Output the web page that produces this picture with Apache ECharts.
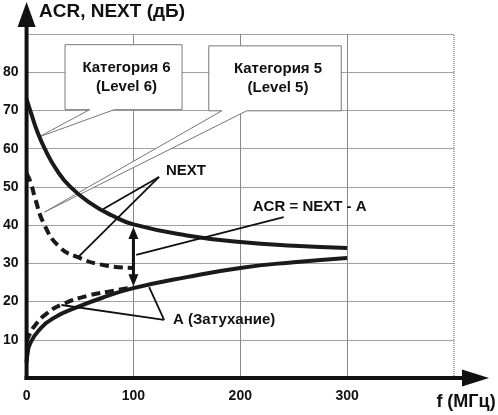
<!DOCTYPE html>
<html>
<head>
<meta charset="utf-8">
<script src="https://cdn.jsdelivr.net/npm/echarts@6/dist/echarts.min.js"></script>
<style>
html, body { margin: 0; padding: 0; background: #fff; }
#chart { width: 498px; height: 415px; }
</style>
</head>
<body>
<div id="chart"></div>
<script>
// f, МГц -> дБ
const next6 = [[0, 73], [4, 69.5], [10, 64.5], [17, 60], [28, 54.5], [41, 50], [60, 45.7], [80, 42.5], [100, 40.2], [150, 37.3], [200, 35.6], [250, 34.6], [300, 34]]
const next5 = [[0, 53.5], [4, 51], [8, 47], [16, 40.5], [30, 34.5], [48, 31.6], [73, 29.5], [100, 28.8]]
const atten6 = [[0, 4], [1, 6.5], [3, 8.8], [11, 12.3], [26, 15.8], [48, 18.6], [73, 21.2], [100, 23.5], [150, 26.4], [200, 28.8], [250, 30.3], [300, 31.4]]
const atten5 = [[0, 9.5], [2, 11], [8, 13.8], [19, 16.9], [33, 19.2], [57, 21.5], [85, 23], [100, 23.8]]
const xTicks = [0, 100, 200, 300]
const yTicks = [10, 20, 30, 40, 50, 60, 70, 80]

const FONT = 'Liberation Sans'
const myChart = echarts.init(document.getElementById('chart'))

const curve = (name, data, dashed) => ({
    name: name,
    type: 'line',
    data: data,
    smooth: 0.5,
    showSymbol: false,
    lineStyle: { color: '#1a1a1a', width: 4, type: dashed ? [9, 5] : 'solid' }
})

myChart.setOption({
    animation: false,
    grid: { left: 25, right: 44, top: 34, bottom: 37 },
    xAxis: {
        type: 'value',
        min: 0,
        max: 400,
        interval: 100,
        axisLine: { show: false },
        axisTick: { show: false },
        axisLabel: {
            margin: 11,
            fontFamily: FONT,
            fontWeight: 'bold',
            fontSize: 14,
            color: '#111',
            formatter: v => xTicks.includes(v) ? v : ''
        },
        splitLine: {
            show: true,
            lineStyle: { color: ['#888', '#888', '#888', '#888', 'rgba(0,0,0,0)'], width: 1 }
        }
    },
    yAxis: {
        type: 'value',
        min: 0,
        max: 90,
        interval: 10,
        axisLine: { show: false },
        axisTick: { show: false },
        axisLabel: {
            margin: 8,
            fontFamily: FONT,
            fontWeight: 'bold',
            fontSize: 14,
            color: '#111',
            formatter: v => yTicks.includes(v) ? v : ''
        },
        splitLine: {
            show: true,
            lineStyle: { color: '#444', width: 1, type: [1, 1] }
        }
    },
    series: [
        curve('NEXT кат. 6', next6, false),
        curve('NEXT кат. 5', next5, true),
        curve('A кат. 6', atten6, false),
        curve('A кат. 5', atten5, true)
    ]
})

// подписи и выноски (в координатах графика)
const callouts = [
    { text: 'Категория 6\n(Level 6)', box: [36, 87.2, 145.5, 70.2], base: [59, 82], tip: [11, 63] },
    { text: 'Категория 5\n(Level 5)', box: [170.5, 86.9, 294.5, 69.9], base: [182.7, 206], tip: [16.8, 43.4] }
]
const leaders = [
    { text: 'NEXT', at: [130.5, 54.2], from: [124, 52.6], to: [[71.8, 44.2], [48.5, 31.7]] },
    { text: 'ACR = NEXT - A', at: [211.7, 44.7], from: [240.6, 42.1], to: [[102.6, 32.2]] },
    { text: 'A (Затухание)', at: [137, 15.2], from: [128.7, 15.2], to: [[114.7, 23.8], [32.6, 19.1]] }
]
const acrArrow = { x: 100, top: 39.5, bottom: 24 }

const px = p => myChart.convertToPixel({ gridIndex: 0 }, p)
const graphic = []

callouts.forEach(c => {
    const [l, t] = px([c.box[0], c.box[1]])
    const [r, b] = px([c.box[2], c.box[3]])
    const b1 = px([c.base[0], 0])[0]
    const b2 = px([c.base[1], 0])[0]
    const tip = px(c.tip)
    graphic.push({
        type: 'polygon',
        z: 1,
        shape: { points: [[l, t], [r, t], [r, b], [b2, b], tip, [b1, b], [l, b]] },
        style: { fill: '#fff', stroke: '#777', lineWidth: 1 }
    })
    graphic.push({
        type: 'text',
        z: 1,
        x: (l + r) / 2 + 3,
        y: (t + b) / 2,
        style: {
            text: c.text,
            font: `bold 15px "${FONT}"`,
            fill: '#111',
            align: 'center',
            verticalAlign: 'middle',
            lineHeight: 19
        }
    })
})

leaders.forEach(d => {
    const s = px(d.from)
    d.to.forEach(p => {
        const e = px(p)
        graphic.push({
            type: 'line',
            z: 5,
            shape: { x1: s[0], y1: s[1], x2: e[0], y2: e[1] },
            style: { stroke: '#111', lineWidth: 1.8 }
        })
    })
    const a = px(d.at)
    graphic.push({
        type: 'text',
        z: 5,
        x: a[0],
        y: a[1],
        style: { text: d.text, font: `bold 15px "${FONT}"`, fill: '#111', align: 'left', verticalAlign: 'middle' }
    })
})

// двойная стрелка ACR
const at = px([acrArrow.x, acrArrow.top])
const ab = px([acrArrow.x, acrArrow.bottom])
graphic.push(
    { type: 'line', z: 5, shape: { x1: at[0], y1: at[1] + 10, x2: ab[0], y2: ab[1] - 10 }, style: { stroke: '#111', lineWidth: 3 } },
    { type: 'polygon', z: 5, shape: { points: [[at[0], at[1]], [at[0] - 5, at[1] + 12], [at[0] + 5, at[1] + 12]] }, style: { fill: '#111' } },
    { type: 'polygon', z: 5, shape: { points: [[ab[0], ab[1]], [ab[0] - 5, ab[1] - 12], [ab[0] + 5, ab[1] - 12]] }, style: { fill: '#111' } }
)

// правая граница сетки пунктиром
const r0 = px([400, 0])
const r1 = px([400, 90])
graphic.push({ type: 'line', z: 0, shape: { x1: r0[0], y1: r0[1], x2: r1[0], y2: r1[1] }, style: { stroke: '#555', lineWidth: 1, lineDash: [1, 1] } })

// оси со стрелками
const o = px([0, 0])
graphic.push(
    { type: 'line', z: 6, shape: { x1: o[0], y1: o[1] + 2, x2: o[0], y2: 24 }, style: { stroke: '#111', lineWidth: 4 } },
    { type: 'polygon', z: 6, shape: { points: [[o[0], 2], [o[0] - 9, 27], [o[0] + 9, 27]] }, style: { fill: '#111' } },
    { type: 'line', z: 6, shape: { x1: o[0] - 2, y1: o[1], x2: 465, y2: o[1] }, style: { stroke: '#111', lineWidth: 4 } },
    { type: 'polygon', z: 6, shape: { points: [[489, o[1]], [462, o[1] - 8.5], [462, o[1] + 8.5]] }, style: { fill: '#111' } },
    {
        type: 'text', z: 6, x: 39, y: 12,
        style: { text: 'ACR, NEXT (дБ)', font: `bold 19px "${FONT}"`, fill: '#111', align: 'left', verticalAlign: 'middle' }
    },
    {
        type: 'text', z: 6, x: 466, y: 402,
        style: { text: 'f (МГц)', font: `bold 18px "${FONT}"`, fill: '#111', align: 'center', verticalAlign: 'middle' }
    }
)

myChart.setOption({ graphic })
</script>
</body>
</html>
